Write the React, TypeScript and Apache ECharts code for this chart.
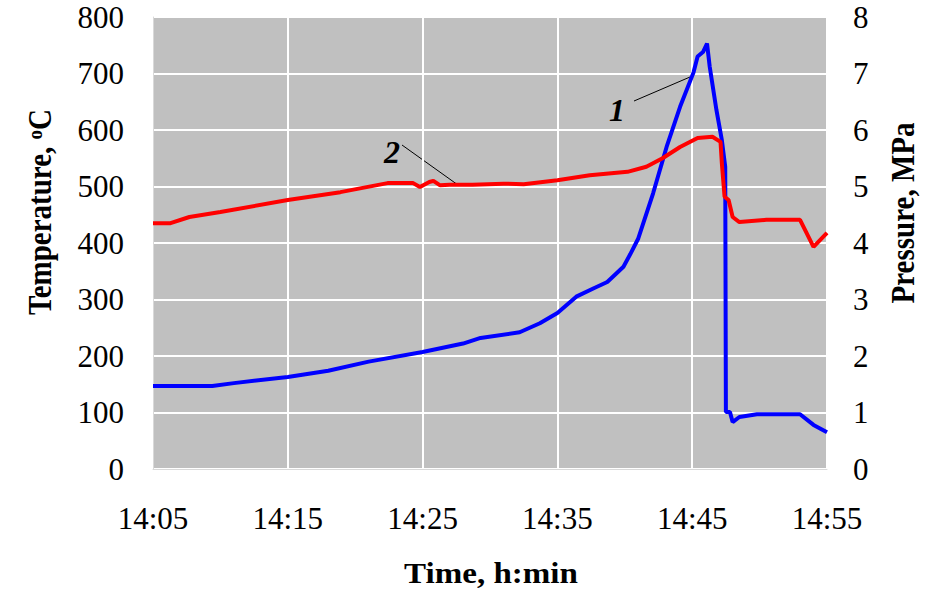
import React, { useEffect, useRef } from 'react';
import * as echarts from 'echarts';

// x values are minutes after 14:05
const xTickLabels = ['14:05', '14:15', '14:25', '14:35', '14:45', '14:55'];

// Curve 1 (blue) – temperature, °C
const tempTime = [0, 4.4, 6, 10, 13, 16, 20, 23, 24.3, 27.2, 28.7, 30, 31.4, 32.7, 33.7, 34.9, 35.4, 36.0, 37.1, 38.1, 39.1, 40.1, 40.4, 40.8, 41.1, 41.3, 41.8, 42.2, 42.45, 42.5, 42.8, 43.0, 43.5, 44.8, 48.0, 49.0, 50];
const tempValues = [147, 147, 152, 163, 174, 190, 207, 222, 232, 242, 258, 276, 305, 320, 331, 358, 380, 408, 488, 570, 641, 702, 730, 738, 753, 712, 635, 582, 535, 101, 101, 83, 92, 97, 97, 78, 65];

// Curve 2 (red) – pressure, MPa
const pressTime = [0, 1.3, 2.7, 5, 10, 13.9, 17.4, 19.3, 19.8, 20.5, 20.8, 21.3, 22, 23.7, 26, 27.5, 30, 32.4, 35.2, 36.6, 37.8, 39.1, 40.4, 41.5, 42.1, 42.2, 42.4, 42.7, 43.0, 43.5, 45.5, 48.0, 49.0, 50];
const pressValues = [4.35, 4.35, 4.46, 4.55, 4.76, 4.90, 5.06, 5.06, 4.99, 5.08, 5.10, 5.02, 5.03, 5.03, 5.05, 5.04, 5.11, 5.20, 5.26, 5.35, 5.50, 5.70, 5.86, 5.88, 5.79, 5.41, 4.82, 4.76, 4.46, 4.37, 4.41, 4.41, 3.93, 4.18];

export default function App() {
  const ref = useRef<HTMLDivElement>(null);
  useEffect(() => {
    const chart = echarts.init(ref.current!, null, { renderer: 'svg' });
    const font = 'Liberation Serif';
    const tickStyle = { fontFamily: font, fontSize: 31, color: '#000' };
    chart.setOption({
      animation: false,
      backgroundColor: '#fff',
      grid: {
        left: 153, right: 100, top: 17, bottom: 125,
        show: true, backgroundColor: '#c0c0c0', borderWidth: 0,
      },
      xAxis: {
        type: 'value', min: 0, max: 50, interval: 10,
        axisLine: { show: true, lineStyle: { color: '#d9d9d9', width: 1 } },
        axisTick: { show: false },
        splitLine: { show: true, lineStyle: { color: '#ffffff', width: 2 } },
        axisLabel: { ...tickStyle, margin: 34, formatter: (v: number) => xTickLabels[Math.round(v / 10)] },
      },
      yAxis: [
        {
          type: 'value', min: 0, max: 800, interval: 100, position: 'left',
          axisLine: { show: true, lineStyle: { color: '#d9d9d9', width: 1 } },
          axisTick: { show: false },
          splitLine: { show: true, lineStyle: { color: '#ffffff', width: 2 } },
          axisLabel: { ...tickStyle, margin: 29 },
        },
        {
          type: 'value', min: 0, max: 8, interval: 1, position: 'right',
          axisLine: { show: false },
          axisTick: { show: false },
          splitLine: { show: false },
          axisLabel: { ...tickStyle, margin: 26 },
        },
      ],
      series: [
        {
          name: '1', type: 'line', yAxisIndex: 0, showSymbol: false,
          lineStyle: { color: '#0000ff', width: 4 },
          data: tempTime.map((t, i) => [t, tempValues[i]]),
        },
        {
          name: '2', type: 'line', yAxisIndex: 1, showSymbol: false,
          lineStyle: { color: '#ff0000', width: 4 },
          data: pressTime.map((t, i) => [t, pressValues[i]]),
        },
      ],
      graphic: [
        {
          type: 'text', x: 40, y: 212, rotation: Math.PI / 2, scaleY: 1.15,
          style: {
            text: '{a|Temperature, }{s|o}{a|C}',
            align: 'center', verticalAlign: 'middle',
            rich: {
              a: { fontFamily: font, fontSize: 29, fontWeight: 'bold', fill: '#000' },
              s: { fontFamily: font, fontSize: 19, fontWeight: 'bold', fill: '#000', verticalAlign: 'top' },
            },
          },
        },
        {
          type: 'text', x: 903, y: 213, rotation: Math.PI / 2, scaleY: 1.15,
          style: {
            text: 'Pressure, MPa', align: 'center', verticalAlign: 'middle',
            fontFamily: font, fontSize: 29, fontWeight: 'bold', fill: '#000',
          },
        },
        {
          type: 'text', x: 491, y: 573, scaleX: 1.14,
          style: {
            text: 'Time, h:min', align: 'center', verticalAlign: 'middle',
            fontFamily: font, fontSize: 29, fontWeight: 'bold', fill: '#000',
          },
        },
        {
          type: 'text', x: 392, y: 152,
          style: {
            text: '2', align: 'center', verticalAlign: 'middle',
            fontFamily: font, fontSize: 32, fontWeight: 'bold', fontStyle: 'italic', fill: '#000',
          },
        },
        {
          type: 'line', shape: { x1: 402, y1: 145, x2: 458, y2: 185 },
          style: { stroke: '#000', lineWidth: 1 },
        },
        {
          type: 'text', x: 617, y: 110,
          style: {
            text: '1', align: 'center', verticalAlign: 'middle',
            fontFamily: font, fontSize: 32, fontWeight: 'bold', fontStyle: 'italic', fill: '#000',
          },
        },
        {
          type: 'line', shape: { x1: 634, y1: 101, x2: 690, y2: 77 },
          style: { stroke: '#000', lineWidth: 1 },
        },
      ],
    });
    return () => chart.dispose();
  }, []);
  return (
    <div
      ref={ref}
      style={{ position: 'fixed', left: 0, top: 0, width: 927, height: 594, background: '#fff' }}
    />
  );
}
